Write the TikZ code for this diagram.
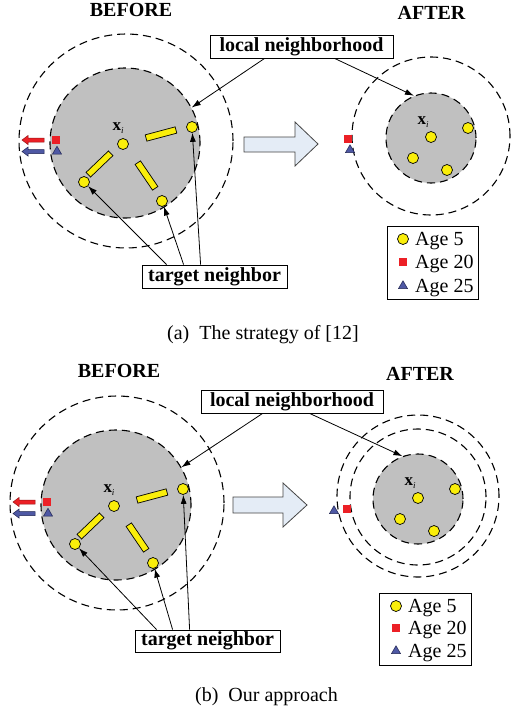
\documentclass[tikz,border=0pt]{standalone}
\usepackage{fontspec}
\setmainfont{Liberation Serif}
\usetikzlibrary{shapes.geometric,arrows.meta}
\definecolor{graybg}{RGB}{192,192,192}
\definecolor{yel}{RGB}{250,238,10}
\definecolor{redm}{RGB}{236,32,38}
\definecolor{reddark}{RGB}{150,20,20}
\definecolor{bluem}{RGB}{78,88,164}
\definecolor{bluedark}{RGB}{30,35,80}
\definecolor{arrowfill}{RGB}{228,236,246}
\definecolor{arrowline}{RGB}{70,70,70}
\newcommand{\bigbf}{\fontsize{20}{24}\selectfont\bfseries}
\newcommand{\bigrm}{\fontsize{20}{24}\selectfont}
\newcommand{\xilabel}{{\fontsize{17}{17}\selectfont\bfseries x}{\fontsize{9}{9}\selectfont\itshape\raisebox{-3pt}{i}}}
\tikzset{
 ring/.style={circle, draw=black, dashed, dash pattern=on 8pt off 5pt, line width=1.1pt, inner sep=0pt},
 disc/.style={ring, fill=graybg},
 ydot/.style={circle, draw=black, fill=yel, line width=0.7pt, minimum size=11pt, inner sep=0pt},
 ybar/.style={rectangle, draw=black, fill=yel, line width=0.7pt, minimum width=31pt, minimum height=6.5pt, inner sep=0pt},
 rsq/.style={rectangle, fill=redm, minimum size=8pt, inner sep=0pt},
 btri/.style={regular polygon, regular polygon sides=3, fill=bluem, draw=bluedark, line width=0.5pt, minimum size=10.5pt, inner sep=0pt},
 lblbox/.style={draw=black, line width=0.8pt, font=\bigbf, inner sep=0pt},
 ttl/.style={font=\bigbf, inner sep=0pt},
 conn/.style={-{Latex[length=9pt,width=6pt]}, line width=0.8pt},
 legtxt/.style={anchor=base west, font=\bigrm, inner sep=0pt},
 legbox/.style={draw=black, line width=0.8pt, inner sep=0pt},
 bigarrow/.style={fill=arrowfill, draw=arrowline, line width=0.8pt},
 redarrow/.style={fill=redm, draw=reddark, line width=0.5pt},
 bluearrow/.style={fill=bluem, draw=bluedark, line width=0.5pt},
}
\newcommand{\beforeCluster}[3]{%
\begin{scope}[shift={(#2,#3)}]
\node[ring, minimum size=214pt] (#1out) at (3,-3) {};
\node[disc, minimum size=150pt] (#1disc) at (2,-1) {};
\path (-35,31) -- (-12,9) node[ybar, sloped, midway] (#1barA) {};
\path (23,-6) -- (53,-14) node[ybar, sloped, midway] (#1barB) {};
\path (15,19) -- (32,44) node[ybar, sloped, midway] (#1barC) {};
\node[ydot] (#1xi) at (0,0) {};
\node[ydot] (#1pA) at (-39,38) {};
\node[ydot] (#1pB) at (39,57) {};
\node[ydot] (#1pC) at (69,-17) {};
\node[inner sep=0pt] (#1lab) at (-5,-16) {\xilabel};
\node[rsq] (#1sq) at (-67,-4) {};
\node[btri] (#1tri) at (-66,7.5) {};
\filldraw[redarrow] (-79,-6) -- (-95,-6) -- (-95,-8.5) -- (-101,-4) -- (-95,0.5) -- (-95,-2) -- (-79,-2) -- cycle;
\filldraw[bluearrow] (-79,5.5) -- (-95,5.5) -- (-95,3) -- (-101,7.5) -- (-95,12) -- (-95,9.5) -- (-79,9.5) -- cycle;
\end{scope}}
\newcommand{\afterCore}[3]{%
\begin{scope}[shift={(#2,#3)}]
\node[disc, minimum size=90pt] (#1disc) at (0,0) {};
\node[ydot] (#1xi) at (0,-1) {};
\node[ydot] (#1pA) at (37,-10) {};
\node[ydot] (#1pB) at (-18,20) {};
\node[ydot] (#1pC) at (16,32) {};
\node[inner sep=0pt] (#1lab) at (-8,-16) {\xilabel};
\end{scope}}
\begin{document}
\begin{tikzpicture}[x=1pt,y=-1pt]
\useasboundingbox[fill=white] (0,0) rectangle (517,713);
% ---------------- panel (a) ----------------
\node[ttl] (abt) at (131,10) {BEFORE};
\node[ttl] (aat) at (431.5,12.5) {AFTER};
\beforeCluster{ab}{123}{144}
\node[ring, minimum size=158pt] (aaring) at (431,136) {};
\afterCore{aa}{431}{138}
\node[rsq] (aasq) at (348,139) {};
\node[btri] (aatri) at (350,150) {};
\filldraw[bigarrow] (244,137) -- (295,137) -- (295,122) -- (318,144) -- (295,166) -- (295,152) -- (244,152) -- cycle;
\node[lblbox, minimum width=183pt, minimum height=23pt] (aln) at (301.5,46.5) {local neighborhood};
\node[lblbox, minimum width=145pt, minimum height=23pt] (atn) at (214.5,276.5) {target neighbor};
\draw[conn] ([xshift=55pt]aln.south west) -- (abdisc.28);
\draw[conn] ([xshift=125pt]aln.south west) -- (aadisc.112);
\draw[conn] ([xshift=25pt]atn.north west) -- (abpA);
\draw[conn] ([xshift=42pt]atn.north west) -- (abpB);
\draw[conn] ([xshift=59pt]atn.north west) -- (abpC);
\node[legbox, minimum width=91pt, minimum height=73pt] (aleg) at (432.5,262.5) {};
\node[ydot] (alegc) at (403,239) {};
\node[legtxt] (alegct) at (415,245.5) {Age 5};
\node[rsq] (alegs) at (403,262) {};
\node[legtxt] (alegst) at (415,268.5) {Age 20};
\node[btri] (alegt) at (403,286) {};
\node[legtxt] (alegtt) at (415,292.5) {Age 25};
\node[font=\bigrm, anchor=base, inner sep=0pt] (capa) at (263,339) {(a)\ \ The strategy of [12]};
% ---------------- panel (b) ----------------
\node[ttl] (bbt) at (119,371) {BEFORE};
\node[ttl] (bat) at (420,373.5) {AFTER};
\beforeCluster{bb}{114}{506}
\node[ring, minimum size=162pt] (baringA) at (418,496) {};
\node[ring, minimum size=136pt] (baringB) at (418,497) {};
\afterCore{ba}{418}{499}
\node[rsq] (basq) at (347,509) {};
\node[btri] (batri) at (334,511) {};
\filldraw[bigarrow] (233,497) -- (283,497) -- (283,483) -- (307,505) -- (283,527) -- (283,513) -- (233,513) -- cycle;
\node[lblbox, minimum width=182pt, minimum height=23pt] (bln) at (292,401.5) {local neighborhood};
\node[lblbox, minimum width=145pt, minimum height=22pt] (btn) at (207.5,641) {target neighbor};
\draw[conn] ([xshift=62pt]bln.south west) -- (bbdisc.30);
\draw[conn] ([xshift=109pt]bln.south west) -- (badisc.110);
\draw[conn] ([xshift=22pt]btn.north west) -- (bbpA);
\draw[conn] ([xshift=38pt]btn.north west) -- (bbpB);
\draw[conn] ([xshift=55pt]btn.north west) -- (bbpC);
\node[legbox, minimum width=92pt, minimum height=72pt] (bleg) at (425,629) {};
\node[ydot] (blegc) at (396,606) {};
\node[legtxt] (blegct) at (408,612.5) {Age 5};
\node[rsq] (blegs) at (396,628) {};
\node[legtxt] (blegst) at (408,634.5) {Age 20};
\node[btri] (blegt) at (396,651) {};
\node[legtxt] (blegtt) at (408,657.5) {Age 25};
\node[font=\bigrm, anchor=base, inner sep=0pt] (capb) at (266.5,701) {(b)\ \ Our approach};
\end{tikzpicture}
\end{document}
